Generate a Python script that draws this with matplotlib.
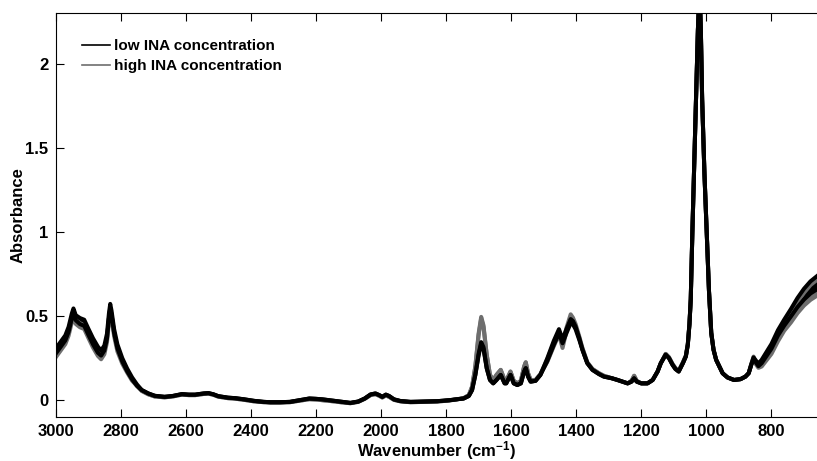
#!/usr/bin/env python3
# -*- coding: utf-8 -*-

import numpy as np
import matplotlib
matplotlib.use("Agg")
import matplotlib.pyplot as plt
from matplotlib.lines import Line2D

# --- Spectra (wavenumber in cm-1, absorbance), one row of the lists per band region
wavenumber = [3000, 2985, 2970, 2960, 2950, 2945, 2938, 2925, 2912, 2900,
              2885, 2870, 2860, 2850, 2842, 2836, 2832, 2828, 2820, 2810,
              2795, 2780, 2765, 2750, 2735, 2715, 2695, 2665, 2640, 2612,
              2590, 2571, 2545, 2530, 2515, 2500, 2470, 2448, 2420, 2390,
              2360, 2340, 2310, 2280, 2250, 2220, 2200, 2180, 2160, 2140,
              2120, 2094, 2070, 2050, 2032, 2017, 2005, 1996, 1985, 1975,
              1960, 1940, 1909, 1870, 1827, 1790, 1746, 1730, 1720, 1710,
              1700, 1692, 1685, 1675, 1665, 1655, 1645, 1632, 1620, 1615,
              1602, 1592, 1581, 1570, 1560, 1555, 1548, 1540, 1525, 1510,
              1489, 1469, 1453, 1442, 1430, 1417, 1410, 1402, 1390, 1381,
              1366, 1350, 1330, 1315, 1290, 1273, 1242, 1230, 1222, 1214,
              1200, 1181, 1165, 1150, 1140, 1125, 1115, 1104, 1095, 1085,
              1072, 1063, 1057, 1052, 1048, 1043, 1038, 1032, 1026, 1021,
              1017, 1013, 1006, 999, 992, 985, 978, 970, 950, 935,
              915, 895, 880, 870, 862, 855, 848, 840, 830, 800,
              780, 761, 740, 720, 700, 680, 655]

# low INA concentration: mean absorbance and half width of the bundle
low_abs = [0.29, 0.33, 0.37, 0.42, 0.50, 0.53, 0.49, 0.47, 0.46, 0.41,
           0.35, 0.30, 0.28, 0.31, 0.38, 0.50, 0.56, 0.52, 0.41, 0.32,
           0.24, 0.18, 0.13, 0.09, 0.06, 0.04, 0.026, 0.02, 0.025, 0.036,
           0.033, 0.033, 0.04, 0.042, 0.035, 0.024, 0.015, 0.012, 0.005, -0.004,
           -0.01, -0.012, -0.012, -0.01, 0.0, 0.01, 0.008, 0.005, 0.0, -0.005,
           -0.01, -0.016, -0.008, 0.01, 0.034, 0.04, 0.03, 0.02, 0.033, 0.025,
           0.005, -0.005, -0.01, -0.008, -0.006, 0.0, 0.01, 0.025, 0.06, 0.15,
           0.27, 0.34, 0.31, 0.19, 0.12, 0.10, 0.12, 0.15, 0.10, 0.10,
           0.15, 0.10, 0.09, 0.10, 0.17, 0.19, 0.14, 0.11, 0.115, 0.15,
           0.24, 0.34, 0.41, 0.35, 0.41, 0.47, 0.46, 0.43, 0.36, 0.30,
           0.22, 0.18, 0.155, 0.14, 0.13, 0.12, 0.10, 0.11, 0.13, 0.11,
           0.10, 0.10, 0.12, 0.17, 0.22, 0.27, 0.25, 0.21, 0.185, 0.17,
           0.22, 0.26, 0.33, 0.45, 0.60, 1.0, 1.35, 1.79, 2.2, 2.45,
           2.2, 1.79, 1.35, 1.0, 0.65, 0.40, 0.30, 0.24, 0.16, 0.135,
           0.12, 0.125, 0.14, 0.16, 0.21, 0.25, 0.23, 0.21, 0.23, 0.32,
           0.40, 0.46, 0.52, 0.58, 0.63, 0.67, 0.705]
low_spread = [0.015, 0.015, 0.015, 0.015, 0.015, 0.015, 0.015, 0.018, 0.018, 0.018,
              0.018, 0.018, 0.015, 0.015, 0.015, 0.015, 0.012, 0.012, 0.012, 0.012,
              0.01, 0.008, 0.006, 0.004, 0.0, 0.0, 0.0, 0.0, 0.0, 0.0,
              0.0, 0.0, 0.0, 0.0, 0.0, 0.0, 0.0, 0.0, 0.0, 0.0,
              0.0, 0.0, 0.0, 0.0, 0.0, 0.0, 0.0, 0.0, 0.0, 0.0,
              0.0, 0.0, 0.0, 0.0, 0.0, 0.0, 0.0, 0.0, 0.0, 0.0,
              0.0, 0.0, 0.0, 0.0, 0.0, 0.0, 0.0, 0.0, 0.0, 0.0,
              0.005, 0.005, 0.005, 0.0, 0.0, 0.0, 0.0, 0.0, 0.0, 0.0,
              0.0, 0.0, 0.0, 0.0, 0.0, 0.0, 0.0, 0.0, 0.0, 0.0,
              0.008, 0.012, 0.012, 0.012, 0.012, 0.012, 0.01, 0.008, 0.005, 0.0,
              0.0, 0.0, 0.0, 0.0, 0.0, 0.0, 0.0, 0.0, 0.0, 0.0,
              0.0, 0.0, 0.0, 0.0, 0.0, 0.0, 0.0, 0.0, 0.0, 0.0,
              0.0, 0.0, 0.0, 0.0, 0.0, 0.0, 0.0, 0.0, 0.0, 0.0,
              0.0, 0.0, 0.0, 0.0, 0.0, 0.0, 0.0, 0.0, 0.0, 0.0,
              0.0, 0.0, 0.0, 0.0, 0.0, 0.004, 0.006, 0.008, 0.01, 0.014,
              0.016, 0.018, 0.022, 0.027, 0.032, 0.036, 0.04]

# high INA concentration
high_abs = [0.265, 0.305, 0.345, 0.395, 0.475, 0.505, 0.465, 0.445, 0.435, 0.385,
            0.325, 0.275, 0.255, 0.285, 0.355, 0.475, 0.535, 0.495, 0.39, 0.30,
            0.225, 0.17, 0.12, 0.085, 0.055, 0.035, 0.022, 0.017, 0.022, 0.033,
            0.03, 0.03, 0.037, 0.039, 0.032, 0.021, 0.012, 0.009, 0.002, -0.007,
            -0.012, -0.014, -0.014, -0.012, -0.003, 0.006, 0.004, 0.0, -0.004, -0.008,
            -0.013, -0.018, -0.01, 0.008, 0.03, 0.036, 0.026, 0.016, 0.028, 0.02,
            0.002, -0.007, -0.012, -0.01, -0.008, -0.002, 0.012, 0.03, 0.08, 0.20,
            0.39, 0.49, 0.44, 0.27, 0.15, 0.12, 0.15, 0.18, 0.12, 0.115,
            0.17, 0.115, 0.10, 0.115, 0.20, 0.225, 0.16, 0.12, 0.12, 0.155,
            0.235, 0.33, 0.40, 0.32, 0.42, 0.50, 0.48, 0.445, 0.37, 0.31,
            0.225, 0.185, 0.16, 0.145, 0.13, 0.12, 0.10, 0.115, 0.145, 0.115,
            0.10, 0.10, 0.12, 0.17, 0.22, 0.275, 0.255, 0.215, 0.19, 0.175,
            0.225, 0.265, 0.335, 0.455, 0.60, 1.0, 1.35, 1.79, 2.2, 2.45,
            2.2, 1.79, 1.35, 1.0, 0.65, 0.40, 0.30, 0.24, 0.16, 0.135,
            0.12, 0.125, 0.14, 0.16, 0.215, 0.255, 0.22, 0.20, 0.21, 0.29,
            0.37, 0.435, 0.49, 0.55, 0.60, 0.64, 0.675]
high_spread = [0.012, 0.012, 0.012, 0.012, 0.012, 0.012, 0.012, 0.012, 0.012, 0.012,
               0.012, 0.012, 0.012, 0.012, 0.012, 0.012, 0.01, 0.01, 0.01, 0.01,
               0.008, 0.006, 0.004, 0.0, 0.0, 0.0, 0.0, 0.0, 0.0, 0.0,
               0.0, 0.0, 0.0, 0.0, 0.0, 0.0, 0.0, 0.0, 0.0, 0.0,
               0.0, 0.0, 0.0, 0.0, 0.0, 0.0, 0.0, 0.0, 0.0, 0.0,
               0.0, 0.0, 0.0, 0.0, 0.0, 0.0, 0.0, 0.0, 0.0, 0.0,
               0.0, 0.0, 0.0, 0.0, 0.0, 0.0, 0.0, 0.0, 0.0, 0.0,
               0.005, 0.005, 0.005, 0.0, 0.0, 0.0, 0.0, 0.0, 0.0, 0.0,
               0.0, 0.0, 0.0, 0.0, 0.0, 0.0, 0.0, 0.0, 0.0, 0.0,
               0.008, 0.01, 0.01, 0.01, 0.01, 0.01, 0.01, 0.008, 0.005, 0.0,
               0.0, 0.0, 0.0, 0.0, 0.0, 0.0, 0.0, 0.0, 0.0, 0.0,
               0.0, 0.0, 0.0, 0.0, 0.0, 0.0, 0.0, 0.0, 0.0, 0.0,
               0.0, 0.0, 0.0, 0.0, 0.0, 0.0, 0.0, 0.0, 0.0, 0.0,
               0.0, 0.0, 0.0, 0.0, 0.0, 0.0, 0.0, 0.0, 0.0, 0.0,
               0.0, 0.0, 0.0, 0.0, 0.0, 0.004, 0.006, 0.008, 0.01, 0.015,
               0.02, 0.023, 0.028, 0.033, 0.038, 0.044, 0.048]

x_ticks = [3000, 2800, 2600, 2400, 2200, 2000, 1800, 1600, 1400, 1200, 1000, 800]
y_ticks = [0, 0.5, 1, 1.5, 2]
y_tick_labels = ["0", "0.5", "1", "1.5", "2"]

LOW_COLOR = "black"
HIGH_COLOR = "#6e6e6e"


def drawBundle(ax, wn, mean, spread, color, lw):
    # band of overlapping spectra: filled envelope plus its two edges
    upper = mean + spread
    lower = mean - spread
    ax.fill_between(wn, lower, upper, color=color, lw=0)
    ax.plot(wn, upper, color=color, lw=lw, solid_joinstyle="round")
    ax.plot(wn, lower, color=color, lw=lw, solid_joinstyle="round")


if __name__ == "__main__":
    plt.close('all')
    plt.rcParams['font.family'] = ['Liberation Sans', 'DejaVu Sans']
    plt.rcParams['font.weight'] = 'bold'
    plt.rcParams['mathtext.fontset'] = 'custom'
    plt.rcParams['mathtext.rm'] = 'Liberation Sans:bold'
    plt.rcParams['mathtext.bf'] = 'Liberation Sans:bold'
    plt.rcParams['mathtext.default'] = 'rm'

    assert len(wavenumber) == len(low_abs) == len(low_spread) == len(high_abs) == len(high_spread)
    wn = np.array(wavenumber, dtype=float)

    fig = plt.figure(figsize=(8.17, 4.61), dpi=100)
    ax = fig.add_axes([0.068, 0.0954, 0.934, 0.8764])

    # --- gray (high) underneath, black (low) on top
    drawBundle(ax, wn, np.array(high_abs), np.array(high_spread), HIGH_COLOR, 2.9)
    drawBundle(ax, wn, np.array(low_abs), np.array(low_spread), LOW_COLOR, 2.9)

    ax.set_xlim(3000, 655)
    ax.set_ylim(-0.1, 2.3)
    ax.set_xticks(x_ticks)
    ax.set_yticks(y_ticks)
    ax.set_yticklabels(y_tick_labels)
    ax.tick_params(direction='in', length=6, width=0.8, top=True, right=False,
                   labelsize=12, pad=5)
    for spine in ax.spines.values():
        spine.set_linewidth(0.8)

    ax.set_xlabel(r'Wavenumber (cm$^{-1}$)', fontsize=12, fontweight='bold', labelpad=0)
    ax.set_ylabel('Absorbance', fontsize=12, fontweight='bold', labelpad=0)

    # --- legend
    handles = [Line2D([], [], color=LOW_COLOR, lw=1.2),
               Line2D([], [], color=HIGH_COLOR, lw=1.2)]
    ax.legend(handles, ['low INA concentration', 'high INA concentration'],
              loc='upper left', bbox_to_anchor=(0.034, 0.935), frameon=False,
              prop={'weight': 'bold', 'size': 11},
              handlelength=1.85, handletextpad=0.3, labelspacing=0.4,
              borderpad=0, borderaxespad=0)

    fig.savefig('out.png', dpi=100)
